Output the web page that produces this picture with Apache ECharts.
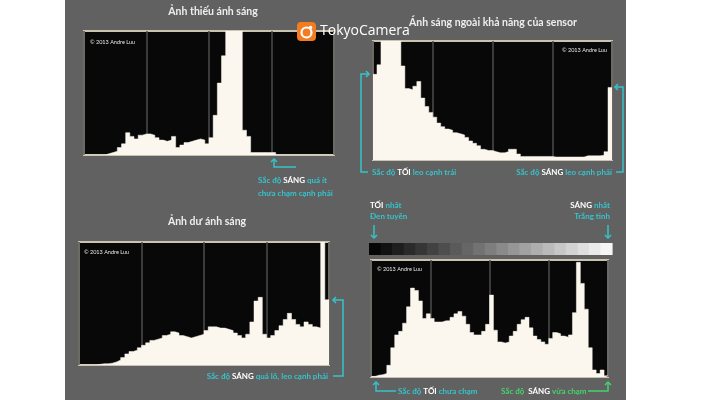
<!DOCTYPE html>
<html><head><meta charset="utf-8">
<script src="https://cdn.jsdelivr.net/npm/echarts@6/dist/echarts.min.js"></script>
<style>html,body{margin:0;padding:0;background:#fff}#c{width:710px;height:400px}</style>
</head><body><div id="c"></div>
<script>
// ---- data (histogram heights, 60 bins each, 0..100 where 100 = clipped at top) ----
const BINS = 60;
const underexposed = [0,0,0,0,0,1,2,3,6,9,18,15,13,16,17,17,16,14,12,11,12,15,6,8,10,11,12,13,12,9,14,32,58,80,100,100,100,100,20,15,2,2,2,2,2,2,0,0,0,0,0,0,0,0,0,0,0,0,0,0];
const sensorClipped = [72,80,100,100,100,100,100,79,60,59,62,66,52,45,40,36,31,28,26,25,23,22,21,19,16,14,12,9,8,8,7,6,6,7,9,9,5,3,3,3,3,3,3,3,3,2.5,2.5,2.5,2.5,2.5,2.5,2.5,2.5,3.5,3.5,3.5,3.5,4,7,61];
const overexposed = [0,0,0,0,0.5,1,1,1.5,2.5,4,6,9,11,12,14,16,18,20,21,22,24,25,27,26,24,23,22,23,24,25,28,31,31,30,30,29,28,26,24,22,25,35,52,55,25,22,24,28,32,37,42,37,33,31,35,33,31,30,100,53];
const balanced = [0.5,1.5,2,3,10,25,36,39,46,60,76,74,65,50,54,50,47,47,48,48,51,54,56,52,45,38,36,36,39,45,70,40,30,29,30,35,39,45,49,51,42,35,32,30,28,33,38,37,35,34,36,55,98,80,58,25,6,3,6,1];
const titles = ['Ảnh thiếu ánh sáng','Ánh sáng ngoài khả năng của sensor','Ảnh dư ánh sáng'];
const copyright = '© 2013 Andre Luu';
const GRAY_STEPS = 21;

const CYAN = '#35c4cc', GREEN = '#45d46c';
const FONT = 'Lato,"Open Sans",sans-serif';
const FS = 8;

const grids = [
  {left:84, top:31, width:250, height:124},
  {left:373, top:41, width:239, height:119},
  {left:79, top:242, width:250, height:123},
  {left:371, top:260, width:237, height:117}
];
const seriesData = [underexposed, sensorClipped, overexposed, balanced];

function steps(vals){ const d = vals.map((v,i)=>[i,v]); d.push([vals.length, vals[vals.length-1]]); return d; }

const chart = echarts.init(document.getElementById('c'), null, {renderer:'canvas'});

function rs(col){ return {fill:col, color:col, fontFamily:FONT, fontWeight:'bold', fontSize:FS}; }
const rich = { c:rs(CYAN), w:rs('#ffffff'), g:rs(GREEN) };
function txt(x,y,text,align){ return {type:'text', x:x, y:y, z:20, style:{text:text, rich:rich, fill:CYAN, align:align||'left', verticalAlign:'middle', fontFamily:FONT, fontWeight:'bold', fontSize:FS}}; }
function pl(points,color){ return {type:'polyline', z:20, shape:{points:points}, style:{stroke:color||CYAN, lineWidth:1.5, fill:null}}; }
function title(x,y,t){ return {type:'text', x:x, y:y, z:20, style:{text:t, fill:'#eeeeee', align:'center', verticalAlign:'middle', font:'bold 10.5px '+FONT}}; }
function copy(x,y,align){ return {type:'text', x:x, y:y, z:20, style:{text:copyright, fill:'#e8e8e8', align:align||'left', verticalAlign:'middle', font:'5.5px '+FONT}}; }

const graphic = [
  {type:'rect', z:-10, shape:{x:65, y:0, width:561, height:400}, style:{fill:'#616161'}},
  title(213,12,titles[0]), title(493,23,titles[1]), title(207,222,titles[2]),
  copy(90,42), copy(607,50,'right'), copy(84,252), copy(377,269),
  // top-left annotation
  pl([[296,167],[274,167],[274,159]]), pl([[271,162],[274,159],[277,162]]),
  txt(258,180,'{c|Sắc độ }{w|SÁNG}{c| quá ít}'), txt(258,193,'{c|chưa chạm cạnh phải}'),
  // top-right annotations
  pl([[369,74],[361,74],[361,172],[368,172]]), pl([[366,71],[369,74],[366,77]]),
  txt(372,172,'{c|Sắc độ }{w|TỐI}{c| leo cạnh trái}'),
  pl([[615,87],[623,87],[623,172],[616,172]]), pl([[618,84],[615,87],[618,90]]),
  txt(612,172,'{c|Sắc độ }{w|SÁNG}{c| leo cạnh phải}','right'),
  // bottom-left annotation
  pl([[333,300],[343,300],[343,376],[333,376]]), pl([[336,297],[333,300],[336,303]]),
  txt(328,376,'{c|Sắc độ }{w|SÁNG}{c| quá lố, leo cạnh phải}','right'),
  // bottom-right annotations
  txt(370,205,'{w|TỐI}{c| nhất}'), txt(370,216,'{c|Đen tuyền}'),
  pl([[374,225],[374,238]]), pl([[371,235],[374,238],[377,235]]),
  txt(610,205,'{w|SÁNG}{c| nhất}','right'), txt(610,216,'{c|Trắng tinh}','right'),
  pl([[608,225],[608,238]]), pl([[605,235],[608,238],[611,235]]),
  pl([[396,391],[376,391],[376,382]]), pl([[373,385],[376,382],[379,385]]),
  txt(398,391,'{c|Sắc độ }{w|TỐI}{c| chưa chạm}'),
  txt(501,391,'{g|Sắc độ  }{w|SÁNG}{g| vừa chạm}'),
  pl([[588,391],[608,391],[608,382]],GREEN), pl([[605,385],[608,382],[611,385]],GREEN),
  // TokyoCamera watermark
  {type:'rect', z:30, shape:{x:297, y:22, width:19, height:19, r:4}, style:{fill:'#f47b20'}},
  {type:'circle', z:31, shape:{cx:306.5, cy:32.5, r:5}, style:{fill:null, stroke:'#fff', lineWidth:2.2}},
  {type:'circle', z:32, shape:{cx:310.5, cy:27.5, r:1.8}, style:{fill:'#fff'}},
  {type:'text', z:30, x:320, y:31, style:{text:'TokyoCamera', fill:'#ffffff', font:'14px "Open Sans",sans-serif', verticalAlign:'middle'}}
];
// gray-scale strip
for (let i=0;i<GRAY_STEPS;i++){
  const t = Math.round(6 + i*(246-6)/(GRAY_STEPS-1));
  const w = 243/GRAY_STEPS;
  graphic.push({type:'rect', z:5, shape:{x:369+i*w, y:243, width:w+0.6, height:12}, style:{fill:'rgb('+t+','+t+','+t+')'}});
}

const option = {
  animation:false,
  backgroundColor:'#ffffff',
  grid: grids.map(g=>Object.assign({show:true, backgroundColor:'#080808', borderColor:'#cbc3b1', borderWidth:2}, g)),
  xAxis: grids.map((g,k)=>({gridIndex:k, type:'value', min:0, max:BINS, interval:BINS/4, axisLine:{show:false}, axisTick:{show:false}, axisLabel:{show:false}, splitLine:{show:true, lineStyle:{color:'#4d4d4d', width:1.5}}})),
  yAxis: grids.map((g,k)=>({gridIndex:k, type:'value', min:0, max:100, show:false})),
  series: seriesData.map((vals,k)=>({type:'line', xAxisIndex:k, yAxisIndex:k, step:'end', symbol:'none', silent:true, data:steps(vals), lineStyle:{width:0.5, color:'#fbf7ee'}, areaStyle:{color:'#fbf7ee', opacity:1}})),
  graphic: graphic
};
chart.setOption(option);
</script></body></html>
